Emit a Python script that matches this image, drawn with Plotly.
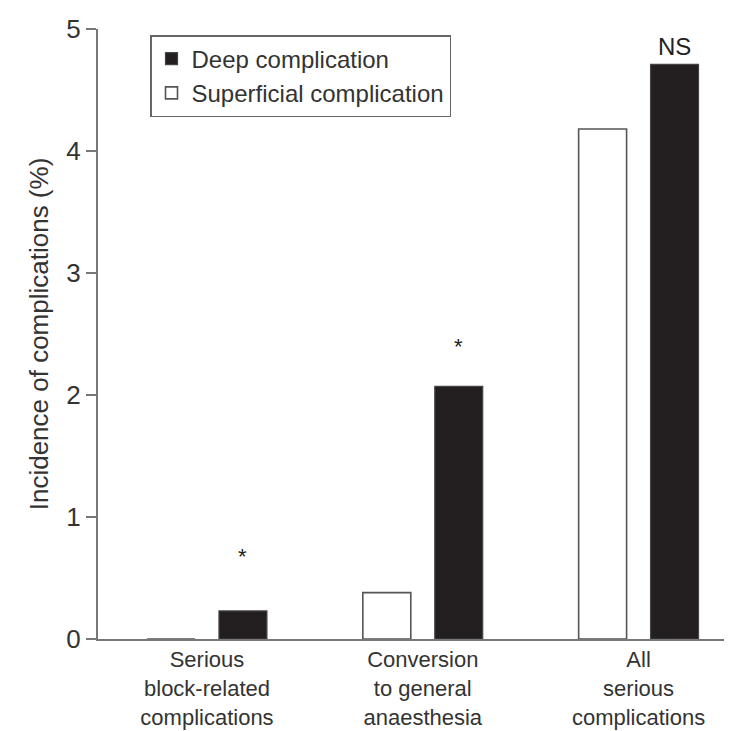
import plotly.graph_objects as go

categories = ["Serious<br>block-related<br>complications",
              "Conversion<br>to general<br>anaesthesia",
              "All<br>serious<br>complications"]
superficial = [0.0, 0.38, 4.18]
deep = [0.23, 2.07, 4.71]
sig_labels = ["*", "*", "NS"]
sig_y = [0.68, 2.40, 4.86]
y_ticks = [0, 1, 2, 3, 4, 5]

FONT = "Liberation Sans, Arial, Helvetica, sans-serif"
x_idx = list(range(len(categories)))

fig = go.Figure()
fig.add_trace(go.Bar(
    x=x_idx, y=superficial, name="Superficial complication",
    marker=dict(color="white", line=dict(color="#555555", width=1.6)),
    legendrank=2,
))
fig.add_trace(go.Bar(
    x=x_idx, y=deep, name="Deep complication",
    marker=dict(color="#231f20", line=dict(color="#444444", width=1.2)),
    legendrank=1,
))

for i, (lab, yy) in enumerate(zip(sig_labels, sig_y)):
    fig.add_annotation(x=i, y=yy, xref="x", yref="y", text=lab,
                       showarrow=False, xshift=36,
                       font=dict(size=24 if lab == "NS" else 22, color="#222222", family=FONT))

fig.update_layout(
    width=732, height=731,
    margin=dict(l=90, r=0, t=21, b=100),
    paper_bgcolor="white", plot_bgcolor="white",
    barmode="group", bargap=1/3, bargroupgap=1/3,
    font=dict(family=FONT, size=22, color="#333333"),
    showlegend=True,
    legend=dict(x=0.081, y=0.99, xanchor="left", yanchor="top",
                bordercolor="#666666", borderwidth=1.5, bgcolor="white",
                font=dict(size=24, color="#333333", family=FONT),
                itemwidth=30, tracegroupgap=0),
    xaxis=dict(range=[-0.505, 2.47], tickmode="array", tickvals=x_idx,
               ticktext=categories, showline=True, linecolor="#777777",
               linewidth=2, ticks="", showgrid=False, zeroline=False,
               tickfont=dict(size=22, color="#333333", family=FONT)),
    yaxis=dict(range=[0, 5], tickmode="array", tickvals=y_ticks,
               showline=True, linecolor="#777777", linewidth=2,
               ticks="outside", ticklen=10, tickwidth=2, tickcolor="#777777",
               showgrid=False, zeroline=False,
               title=dict(text="Incidence of complications (%)",
                          font=dict(size=26, color="#333333", family=FONT),
                          standoff=10),
               tickfont=dict(size=26, color="#333333", family=FONT)),
)

fig.write_html("out.html")
